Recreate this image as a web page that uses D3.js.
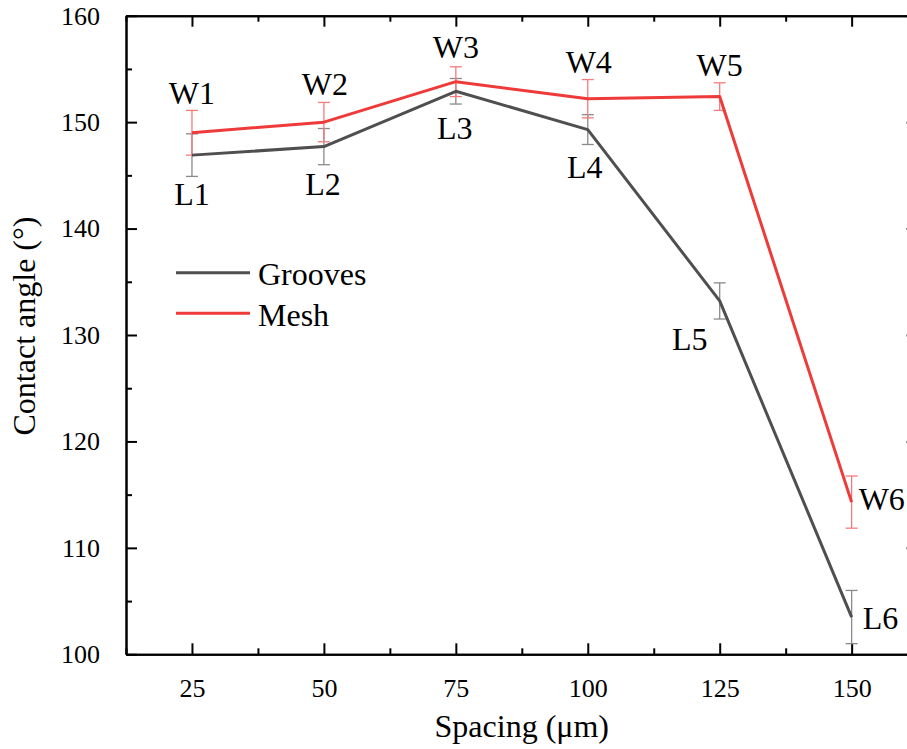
<!DOCTYPE html>
<html>
<head>
<meta charset="utf-8">
<script src="https://cdn.jsdelivr.net/npm/d3@7"></script>
<style>
  body { margin: 0; background: #fff; }
</style>
</head>
<body>
<svg id="chart" width="907" height="749"></svg>
<script>
// spacing values (um)
const spacing = [25, 50, 75, 100, 125, 150];

// contact angle, grooves (L1..L6)
const groovesVals = [146.9, 147.7, 152.9, 149.3, 133.2, 103.5];
const groovesErr = [2.0, 1.7, 1.2, 1.4, 1.7, 2.5];
const groovesLabels = ['L1', 'L2', 'L3', 'L4', 'L5', 'L6'];

// contact angle, mesh (W1..W6)
const meshVals = [149.0, 150.0, 153.8, 152.2, 152.4, 114.3];
const meshErr = [2.1, 1.85, 1.4, 1.8, 1.3, 2.45];
const meshLabels = ['W1', 'W2', 'W3', 'W4', 'W5', 'W6'];

const xTicks = [25, 50, 75, 100, 125, 150];
const yTicks = [100, 110, 120, 130, 140, 150, 160];

const FONT = 'Liberation Serif, Times New Roman, serif';
const svg = d3.select('#chart');

const x = d3.scaleLinear().domain([12.5, 162.5]).range([126, 917.6]);
const y = d3.scaleLinear().domain([100, 160]).range([654.3, 15.7]);

// label placement tweaks (px, relative to the point)
const meshLabelPos = [[0, -29], [1, -27], [0, -24], [1, -26], [0, -21], [7, 8]];
const meshAnchor = ['middle', 'middle', 'middle', 'middle', 'middle', 'start'];
const groovesLabelPos = [[0, 50], [-1, 48], [-1, 48], [-3, 48], [-30, 49], [11, 12]];
const groovesAnchor = ['middle', 'middle', 'middle', 'middle', 'middle', 'start'];

const series = [
  { name: 'Grooves', vals: groovesVals, err: groovesErr, labels: groovesLabels,
    color: '#4f4f4f', errColor: '#8a8a8a', pos: groovesLabelPos, anchor: groovesAnchor },
  { name: 'Mesh', vals: meshVals, err: meshErr, labels: meshLabels,
    color: '#ef3a3a', errColor: '#f37b7b', pos: meshLabelPos, anchor: meshAnchor }
];

// axes frame with inward ticks
const xMinor = d3.range(12.5, 163, 12.5).filter(v => !xTicks.includes(v));
const yMinor = d3.range(105, 160, 10);

const axes = svg.append('g');
axes.append('g')
  .attr('transform', 'translate(0,' + y(100) + ')')
  .call(d3.axisBottom(x).tickValues(xTicks).tickSizeInner(-11).tickSizeOuter(0).tickPadding(24).tickFormat(d3.format('d')));
axes.append('g')
  .attr('transform', 'translate(0,' + y(100) + ')')
  .call(d3.axisBottom(x).tickValues(xMinor).tickSizeInner(-6).tickSizeOuter(0).tickFormat(''));
axes.append('g')
  .attr('transform', 'translate(0,' + y(160) + ')')
  .call(d3.axisTop(x).tickValues(xTicks).tickSizeInner(-11).tickSizeOuter(0).tickFormat(''));
axes.append('g')
  .attr('transform', 'translate(0,' + y(160) + ')')
  .call(d3.axisTop(x).tickValues(xMinor).tickSizeInner(-6).tickSizeOuter(0).tickFormat(''));
axes.append('g')
  .attr('transform', 'translate(' + x(12.5) + ',0)')
  .call(d3.axisLeft(y).tickValues(yTicks).tickSizeInner(-11).tickSizeOuter(0).tickPadding(26).tickFormat(d3.format('d')));
axes.append('g')
  .attr('transform', 'translate(' + x(12.5) + ',0)')
  .call(d3.axisLeft(y).tickValues(yMinor).tickSizeInner(-6).tickSizeOuter(0).tickFormat(''));
axes.append('g')
  .attr('transform', 'translate(' + x(162.5) + ',0)')
  .call(d3.axisRight(y).tickValues(yTicks).tickSizeInner(-11).tickSizeOuter(0).tickFormat(''));
axes.append('g')
  .attr('transform', 'translate(' + x(162.5) + ',0)')
  .call(d3.axisRight(y).tickValues(yMinor).tickSizeInner(-6).tickSizeOuter(0).tickFormat(''));

axes.selectAll('.domain').attr('stroke', '#000').attr('stroke-width', 2);
axes.selectAll('.tick line').attr('stroke', '#000').attr('stroke-width', 2);
axes.selectAll('.tick text')
  .attr('font-size', 26)
  .attr('fill', '#000');

// axis titles
svg.append('text')
  .attr('x', x(87.5))
  .attr('y', 737)
  .attr('text-anchor', 'middle')
  .attr('font-size', 32)
  .text('Spacing (μm)');

svg.append('text')
  .attr('transform', 'translate(35,326) rotate(-90)')
  .attr('text-anchor', 'middle')
  .attr('font-size', 32)
  .text('Contact angle (°)');

const plot = svg.append('g');

series.forEach(s => {
  // error bars
  const eb = plot.append('g').attr('stroke', s.errColor).attr('stroke-width', 1.3);
  spacing.forEach((sp, i) => {
    const cx = x(sp), top = y(s.vals[i] + s.err[i]), bot = y(s.vals[i] - s.err[i]);
    eb.append('line').attr('x1', cx).attr('x2', cx).attr('y1', top).attr('y2', bot);
    eb.append('line').attr('x1', cx - 6).attr('x2', cx + 6).attr('y1', top).attr('y2', top);
    eb.append('line').attr('x1', cx - 6).attr('x2', cx + 6).attr('y1', bot).attr('y2', bot);
  });
});

series.forEach(s => {
  const line = d3.line().x((d, i) => x(spacing[i])).y(d => y(d));
  plot.append('path')
    .datum(s.vals)
    .attr('fill', 'none')
    .attr('stroke', s.color)
    .attr('stroke-width', 3)
    .attr('stroke-linejoin', 'round')
    .attr('d', line);

  plot.selectAll(null)
    .data(s.vals)
    .enter().append('text')
    .attr('x', (d, i) => x(spacing[i]) + s.pos[i][0])
    .attr('y', (d, i) => y(d) + s.pos[i][1])
    .attr('text-anchor', (d, i) => s.anchor[i])
    .attr('font-size', 32)
    .text((d, i) => s.labels[i]);
});

// legend
const legend = svg.append('g');
series.forEach((s, i) => {
  const ly = 272.7 + i * 40.6;
  legend.append('line')
    .attr('x1', 176).attr('x2', 250)
    .attr('y1', ly).attr('y2', ly)
    .attr('stroke', s.color).attr('stroke-width', 3);
  legend.append('text')
    .attr('x', 258).attr('y', ly + 12.5)
    .attr('font-size', 32)
    .text(s.name);
});

// one font for every text, inline so nothing overrides it
svg.selectAll('text').style('font-family', FONT, 'important');
</script>
</body>
</html>
